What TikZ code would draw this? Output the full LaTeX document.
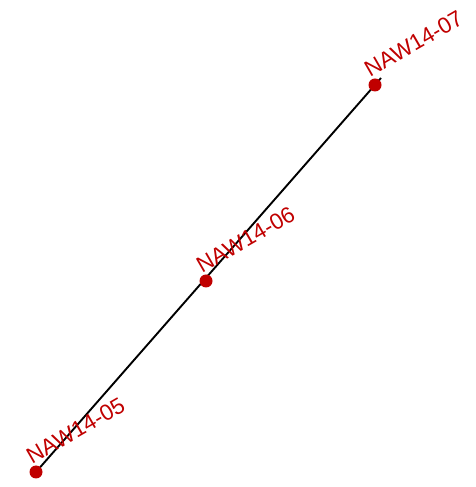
\documentclass[tikz,border=0pt]{standalone}
\usepackage{fontspec}
\setmainfont{Liberation Sans}
\usetikzlibrary{positioning, calc}
\definecolor{wellred}{HTML}{C00000}
\tikzset{
  x=1pt, y=1pt,
  well/.style={circle, fill=wellred, inner sep=0pt, minimum size=13pt},
  welllbl/.style={anchor=base west, rotate=30, inner sep=0pt, text=wellred,
                  font=\fontsize{22.5}{25}\selectfont},
  section/.style={line width=1.9pt, draw=black},
}
\begin{document}
\begin{tikzpicture}
  \useasboundingbox (0,0) rectangle (475,487);
  % wells along the section
  \coordinate (p05) at (36,15);
  \coordinate (p06) at (206,206);
  \coordinate (p07) at (375,402);
  \coordinate (tail) at (381,409);
  \draw[section] (p05) -- (tail);
  \node[well] (w05) at (p05) {};
  \node[well] (w06) at (p06) {};
  \node[well] (w07) at (p07) {};
  \node[welllbl] (l05) at ($(w05.center)+(-4,7.5)$) {NAW14-05};
  \node[welllbl] (l06) at ($(w06.center)+(-4,7.5)$) {NAW14-06};
  \node[welllbl] (l07) at ($(w07.center)+(-5,7.5)$) {NAW14-07};
\end{tikzpicture}
\end{document}
